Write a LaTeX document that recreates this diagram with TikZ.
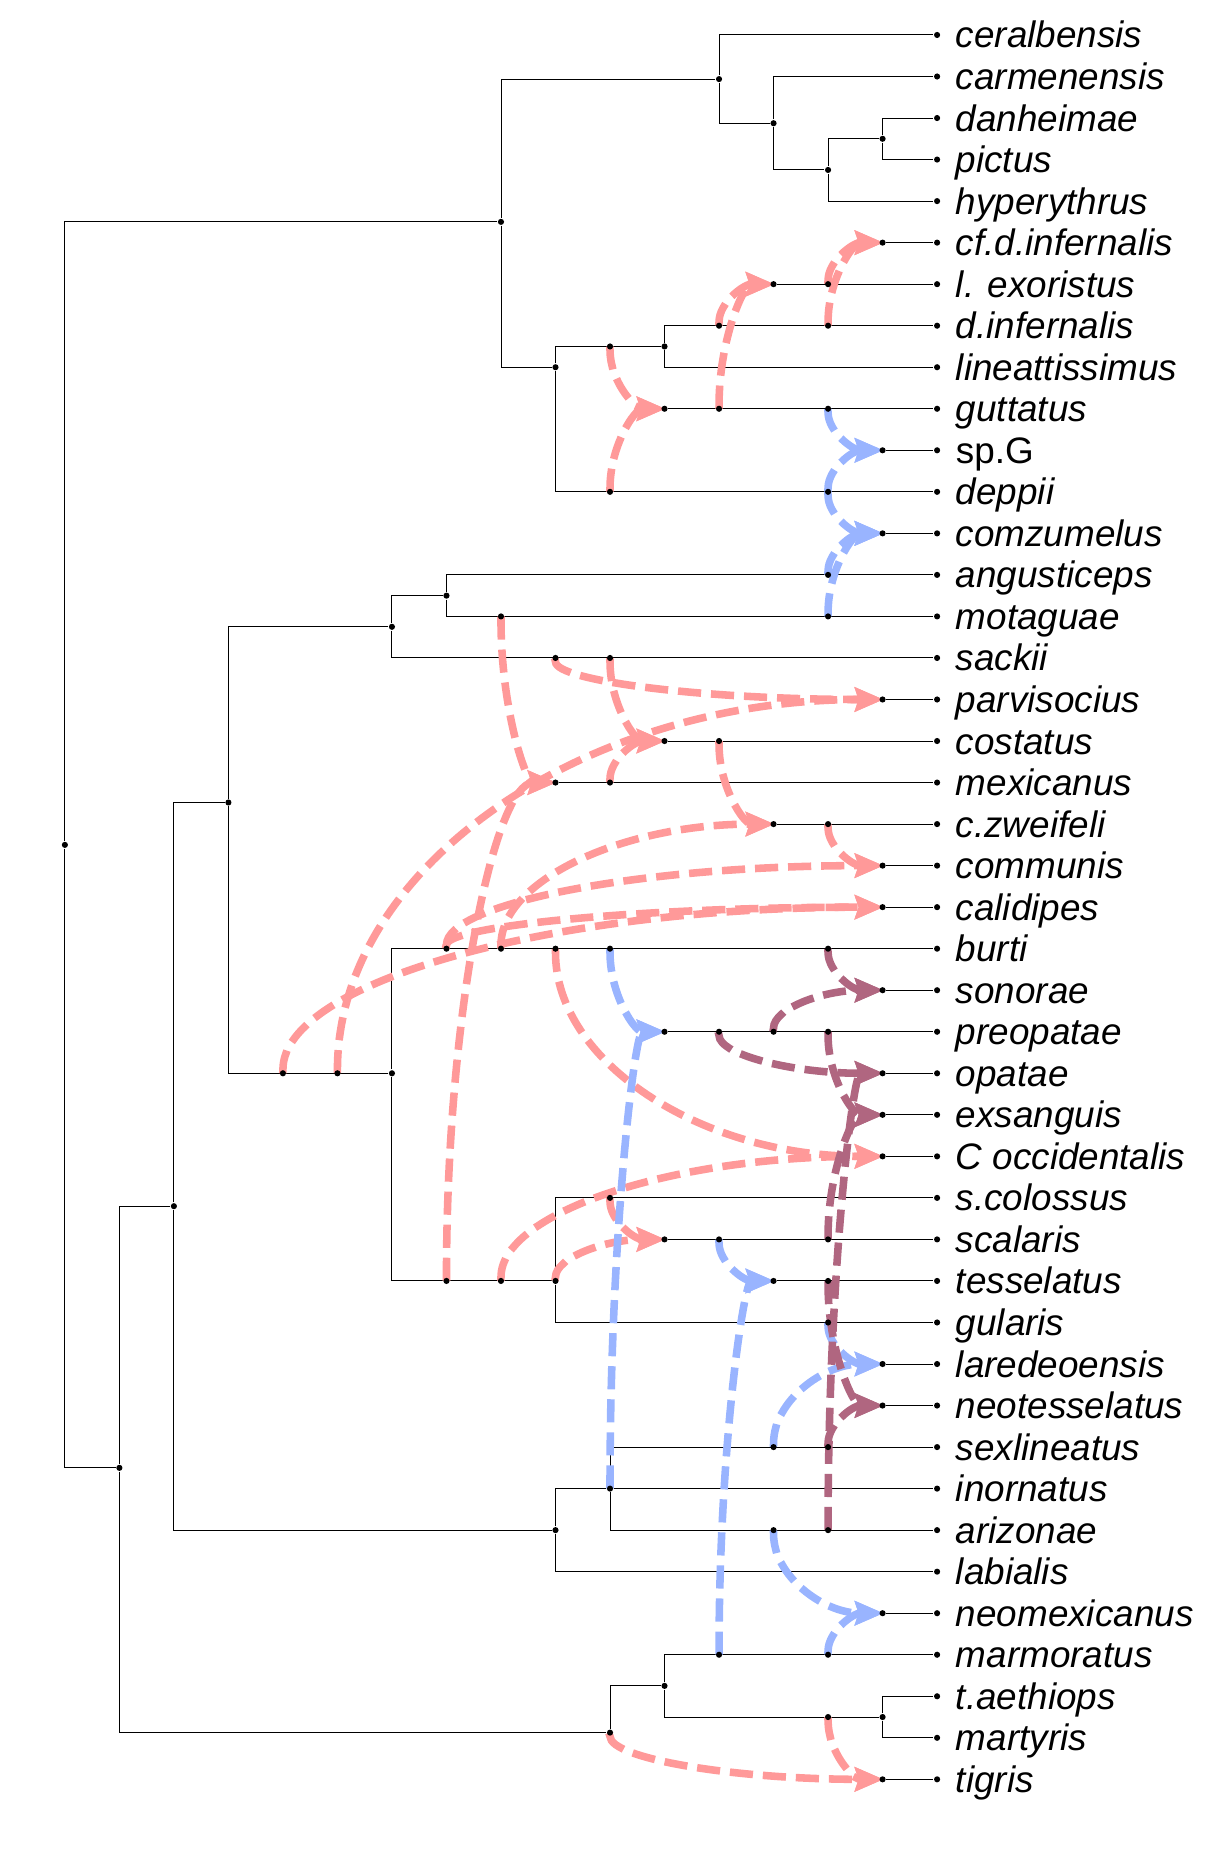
\documentclass[tikz,border=0pt]{standalone}
\usepackage{fontspec}
\setmainfont{Liberation Sans}
\usetikzlibrary{arrows.meta, calc}

\definecolor{hybred}{RGB}{255,153,153}
\definecolor{hybblue}{RGB}{153,180,255}
\definecolor{hybpurple}{RGB}{176,102,128}

\pgfdeclarelayer{edges}
\pgfsetlayers{edges,main}

\tikzset{
  dot/.style={circle, fill, inner sep=0pt, minimum size=2.6pt},
  taxon/.style={font=\fontsize{15.6pt}{18pt}\selectfont\itshape, inner sep=0pt, text height=11pt, text depth=0pt},
  taxonup/.style={taxon, font=\fontsize{15.6pt}{18pt}\selectfont\upshape},
  hyb/.style={line width=3.2pt, line cap=rect, dash pattern=on 6.6pt off 7.4pt, shorten >=-2pt,
    -{Stealth[length=12pt, width=10pt, inset=1.5pt]},
    to path={.. controls ($(\tikztostart)!0.55!(\tikztostart|-\tikztotarget)$) and ($(\tikztotarget)!0.55!(\tikztostart|-\tikztotarget)$) .. (\tikztotarget)}},
  redhyb/.style={hyb, draw=hybred},
  bluehyb/.style={hyb, draw=hybblue},
  purplehyb/.style={hyb, draw=hybpurple}
}

\begin{document}
\begin{tikzpicture}[x=23.075pt, y=-17.58pt, line width=0.65pt, label distance=6pt]
  \useasboundingbox (-1.19,-0.842) rectangle (21.04,43.75);

  \node[dot] (root) at (0,19.5) {};
  \node[dot] (a) at (8,4.5) {};
  \node[dot] (b) at (12,1.0625) {};
  \node[dot] (c) at (13,2.125) {};
  \node[dot] (d) at (14,3.25) {};
  \node[dot] (e) at (15,2.5) {};
  \node[dot] (f) at (9,8) {};
  \node[dot] (g) at (11,7.5) {};
  \node[dot] (u) at (1,34.5) {};
  \node[dot] (m) at (2,28.2) {};
  \node[dot] (k) at (3,18.48) {};
  \node[dot] (i) at (6,14.25) {};
  \node[dot] (j) at (7,13.5) {};
  \node[dot] (l) at (6,25) {};
  \node[dot] (p) at (9,30) {};
  \node[dot] (n) at (9,36) {};
  \node[dot] (q) at (10,35) {};
  \node[dot] (r) at (10,40.875) {};
  \node[dot] (s) at (11,39.75) {};
  \node[dot] (t) at (15,40.5) {};

  \node[dot, label={[taxon, name=cer-t]right:ceralbensis}] (cer) at (16,0) {};
  \node[dot, label={[taxon, name=car-t]right:carmenensis}] (car) at (16,1) {};
  \node[dot, label={[taxon, name=dan-t]right:danheimae}] (dan) at (16,2) {};
  \node[dot, label={[taxon, name=pic-t]right:pictus}] (pic) at (16,3) {};
  \node[dot, label={[taxon, name=hyp-t]right:hyperythrus}] (hyp) at (16,4) {};
  \node[dot, label={[taxon, name=cfd-t]right:cf.d.infernalis}] (cfd) at (16,5) {};
  \node[dot, label={[taxon, name=exo-t]right:l. exoristus}] (exo) at (16,6) {};
  \node[dot, label={[taxon, name=din-t]right:d.infernalis}] (din) at (16,7) {};
  \node[dot, label={[taxon, name=lin-t]right:lineattissimus}] (lin) at (16,8) {};
  \node[dot, label={[taxon, name=gut-t]right:guttatus}] (gut) at (16,9) {};
  \node[dot, label={[taxonup, name=spg-t]right:sp.G}] (spg) at (16,10) {};
  \node[dot, label={[taxon, name=dep-t]right:deppii}] (dep) at (16,11) {};
  \node[dot, label={[taxon, name=com-t]right:comzumelus}] (com) at (16,12) {};
  \node[dot, label={[taxon, name=ang-t]right:angusticeps}] (ang) at (16,13) {};
  \node[dot, label={[taxon, name=mot-t]right:motaguae}] (mot) at (16,14) {};
  \node[dot, label={[taxon, name=sac-t]right:sackii}] (sac) at (16,15) {};
  \node[dot, label={[taxon, name=par-t]right:parvisocius}] (par) at (16,16) {};
  \node[dot, label={[taxon, name=cos-t]right:costatus}] (cos) at (16,17) {};
  \node[dot, label={[taxon, name=mex-t]right:mexicanus}] (mex) at (16,18) {};
  \node[dot, label={[taxon, name=zwe-t]right:c.zweifeli}] (zwe) at (16,19) {};
  \node[dot, label={[taxon, name=cmm-t]right:communis}] (cmm) at (16,20) {};
  \node[dot, label={[taxon, name=cal-t]right:calidipes}] (cal) at (16,21) {};
  \node[dot, label={[taxon, name=bur-t]right:burti}] (bur) at (16,22) {};
  \node[dot, label={[taxon, name=son-t]right:sonorae}] (son) at (16,23) {};
  \node[dot, label={[taxon, name=pre-t]right:preopatae}] (pre) at (16,24) {};
  \node[dot, label={[taxon, name=opa-t]right:opatae}] (opa) at (16,25) {};
  \node[dot, label={[taxon, name=exs-t]right:exsanguis}] (exs) at (16,26) {};
  \node[dot, label={[taxon, name=occ-t]right:C occidentalis}] (occ) at (16,27) {};
  \node[dot, label={[taxon, name=sco-t]right:s.colossus}] (sco) at (16,28) {};
  \node[dot, label={[taxon, name=sca-t]right:scalaris}] (sca) at (16,29) {};
  \node[dot, label={[taxon, name=tes-t]right:tesselatus}] (tes) at (16,30) {};
  \node[dot, label={[taxon, name=gul-t]right:gularis}] (gul) at (16,31) {};
  \node[dot, label={[taxon, name=lar-t]right:laredeoensis}] (lar) at (16,32) {};
  \node[dot, label={[taxon, name=neo-t]right:neotesselatus}] (neo) at (16,33) {};
  \node[dot, label={[taxon, name=sex-t]right:sexlineatus}] (sex) at (16,34) {};
  \node[dot, label={[taxon, name=ino-t]right:inornatus}] (ino) at (16,35) {};
  \node[dot, label={[taxon, name=ari-t]right:arizonae}] (ari) at (16,36) {};
  \node[dot, label={[taxon, name=lab-t]right:labialis}] (lab) at (16,37) {};
  \node[dot, label={[taxon, name=nmx-t]right:neomexicanus}] (nmx) at (16,38) {};
  \node[dot, label={[taxon, name=mar-t]right:marmoratus}] (mar) at (16,39) {};
  \node[dot, label={[taxon, name=tae-t]right:t.aethiops}] (tae) at (16,40) {};
  \node[dot, label={[taxon, name=mty-t]right:martyris}] (mty) at (16,41) {};
  \node[dot, label={[taxon, name=tig-t]right:tigris}] (tig) at (16,42) {};

  \node[dot] (hcfd) at (15,5) {};
  \node[dot] (hexo) at (13,6) {};
  \node[dot] (hgut) at (11,9) {};
  \node[dot] (hspg) at (15,10) {};
  \node[dot] (hcom) at (15,12) {};
  \node[dot] (hpar) at (15,16) {};
  \node[dot] (hcos) at (11,17) {};
  \node[dot] (hmex) at (9,18) {};
  \node[dot] (hzwe) at (13,19) {};
  \node[dot] (hcmm) at (15,20) {};
  \node[dot] (hcal) at (15,21) {};
  \node[dot] (hson) at (15,23) {};
  \node[dot] (hpre) at (11,24) {};
  \node[dot] (hopa) at (15,25) {};
  \node[dot] (hexs) at (15,26) {};
  \node[dot] (hocc) at (15,27) {};
  \node[dot] (hsca) at (11,29) {};
  \node[dot] (htes) at (13,30) {};
  \node[dot] (hlar) at (15,32) {};
  \node[dot] (hneo) at (15,33) {};
  \node[dot] (hnmx) at (15,38) {};
  \node[dot] (htig) at (15,42) {};

  \node[dot] (g10) at (10,7.5) {};
  \node[dot] (dep10) at (10,11) {};
  \node[dot] (din12) at (12,7) {};
  \node[dot] (gut12) at (12,9) {};
  \node[dot] (exo14) at (14,6) {};
  \node[dot] (din14) at (14,7) {};
  \node[dot] (mot8) at (8,14) {};
  \node[dot] (p7) at (7,30) {};
  \node[dot] (p8) at (8,30) {};
  \node[dot] (sac9) at (9,15) {};
  \node[dot] (sac10) at (10,15) {};
  \node[dot] (l4) at (4,25) {};
  \node[dot] (l5) at (5,25) {};
  \node[dot] (mex10) at (10,18) {};
  \node[dot] (cos12) at (12,17) {};
  \node[dot] (bur7) at (7,22) {};
  \node[dot] (bur8) at (8,22) {};
  \node[dot] (bur9) at (9,22) {};
  \node[dot] (bur10) at (10,22) {};
  \node[dot] (bur14) at (14,22) {};
  \node[dot] (zwe14) at (14,19) {};
  \node[dot] (sco10) at (10,28) {};
  \node[dot] (t14) at (14,40.5) {};
  \node[dot] (gut14) at (14,9) {};
  \node[dot] (dep14) at (14,11) {};
  \node[dot] (ang14) at (14,13) {};
  \node[dot] (mot14) at (14,14) {};
  \node[dot] (sca12) at (12,29) {};
  \node[dot] (sca14) at (14,29) {};
  \node[dot] (mar12) at (12,39) {};
  \node[dot] (mar14) at (14,39) {};
  \node[dot] (gul14) at (14,31) {};
  \node[dot] (sex13) at (13,34) {};
  \node[dot] (sex14) at (14,34) {};
  \node[dot] (ari13) at (13,36) {};
  \node[dot] (ari14) at (14,36) {};
  \node[dot] (pre12) at (12,24) {};
  \node[dot] (pre13) at (13,24) {};
  \node[dot] (pre14) at (14,24) {};
  \node[dot] (tes14) at (14,30) {};

  \begin{pgfonlayer}{edges}
    \draw (root) |- (a);
    \draw (root) |- (u);
    \draw (a) |- (b);
    \draw (a) |- (f);
    \draw (b) |- (cer);
    \draw (b) |- (c);
    \draw (c) |- (car);
    \draw (c) |- (d);
    \draw (d) |- (e);
    \draw (d) |- (hyp);
    \draw (e) |- (dan);
    \draw (e) |- (pic);
    \draw (f) |- (g);
    \draw (f) |- (dep);
    \draw (g) |- (din);
    \draw (g) |- (lin);
    \draw (u) |- (m);
    \draw (u) |- (r);
    \draw (m) |- (k);
    \draw (m) |- (n);
    \draw (k) |- (i);
    \draw (k) |- (l);
    \draw (i) |- (j);
    \draw (i) |- (sac);
    \draw (j) |- (ang);
    \draw (j) |- (mot);
    \draw (l) |- (bur);
    \draw (l) |- (p);
    \draw (p) |- (sco);
    \draw (p) |- (gul);
    \draw (n) |- (q);
    \draw (n) |- (lab);
    \draw (q) |- (sex);
    \draw (q) -- (ino);
    \draw (q) |- (ari);
    \draw (r) |- (s);
    \draw (s) |- (mar);
    \draw (s) |- (t);
    \draw (t) |- (tae);
    \draw (t) |- (mty);

    \draw (hcfd) -- (cfd);
    \draw (hexo) -- (exo);
    \draw (hgut) -- (gut);
    \draw (hspg) -- (spg);
    \draw (hcom) -- (com);
    \draw (hpar) -- (par);
    \draw (hcos) -- (cos);
    \draw (hmex) -- (mex);
    \draw (hzwe) -- (zwe);
    \draw (hcmm) -- (cmm);
    \draw (hcal) -- (cal);
    \draw (hson) -- (son);
    \draw (hpre) -- (pre);
    \draw (hopa) -- (opa);
    \draw (hexs) -- (exs);
    \draw (hocc) -- (occ);
    \draw (hsca) -- (sca);
    \draw (htes) -- (tes);
    \draw (hlar) -- (lar);
    \draw (hneo) -- (neo);
    \draw (hnmx) -- (nmx);
    \draw (htig) -- (tig);

    \draw[redhyb] (g10) to (hgut);
    \draw[redhyb] (dep10) to (hgut);
    \draw[redhyb] (din12) to (hexo);
    \draw[redhyb] (gut12) to (hexo);
    \draw[redhyb] (exo14) to (hcfd);
    \draw[redhyb] (din14) to (hcfd);
    \draw[redhyb] (mot8) to (hmex);
    \draw[redhyb] (p7) to (hmex);
    \draw[redhyb] (sac9) to (hpar);
    \draw[redhyb] (l5) to (hpar);
    \draw[redhyb] (sac10) to (hcos);
    \draw[redhyb] (mex10) to (hcos);
    \draw[redhyb] (cos12) to (hzwe);
    \draw[redhyb] (bur8) to (hzwe);
    \draw[redhyb] (zwe14) to (hcmm);
    \draw[redhyb] (bur7) to (hcmm);
    \draw[redhyb] (l4) to (hcal);
    \draw[redhyb] (bur7) to (hcal);
    \draw[redhyb] (bur9) to (hocc);
    \draw[redhyb] (p8) to (hocc);
    \draw[redhyb] (sco10) to (hsca);
    \draw[redhyb] (p) to (hsca);
    \draw[redhyb] (r) to (htig);
    \draw[redhyb] (t14) to (htig);

    \draw[bluehyb] (gut14) to (hspg);
    \draw[bluehyb] (dep14) to (hspg);
    \draw[bluehyb] (dep14) to (hcom);
    \draw[bluehyb] (ang14) to (hcom);
    \draw[bluehyb] (mot14) to (hcom);
    \draw[bluehyb] (bur10) to (hpre);
    \draw[bluehyb] (q) to (hpre);
    \draw[bluehyb] (sca12) to (htes);
    \draw[bluehyb] (mar12) to (htes);
    \draw[bluehyb] (gul14) to (hlar);
    \draw[bluehyb] (sex13) to (hlar);
    \draw[bluehyb] (ari13) to (hnmx);
    \draw[bluehyb] (mar14) to (hnmx);

    \draw[purplehyb] (bur14) to (hson);
    \draw[purplehyb] (pre13) to (hson);
    \draw[purplehyb] (pre12) to (hopa);
    \draw[purplehyb] (ari14) to (hopa);
    \draw[purplehyb] (pre14) to (hexs);
    \draw[purplehyb] (sca14) to (hexs);
    \draw[purplehyb] (tes14) to (hneo);
    \draw[purplehyb] (sex14) to (hneo);
  \end{pgfonlayer}
\end{tikzpicture}
\end{document}
